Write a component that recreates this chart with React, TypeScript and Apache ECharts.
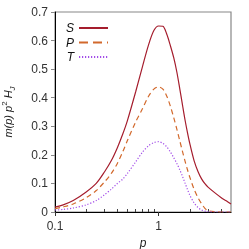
import React, { useEffect, useRef } from "react";
import * as echarts from "echarts";

const pValues = [0.1, 0.12, 0.15, 0.2, 0.25, 0.3, 0.35, 0.4, 0.45, 0.5, 0.6, 0.7, 0.8, 0.9, 1.0, 1.1, 1.2, 1.3, 1.4, 1.5, 1.6, 1.7, 1.8, 1.9, 2.0, 2.2, 2.4, 2.6, 2.8, 3.0, 3.5, 4.0, 4.5, 5.0];
const sValues = [0.017, 0.025, 0.04, 0.07, 0.1, 0.14, 0.18, 0.225, 0.272, 0.32, 0.42, 0.51, 0.585, 0.635, 0.651, 0.65, 0.622, 0.582, 0.54, 0.49, 0.432, 0.375, 0.322, 0.278, 0.24, 0.18, 0.142, 0.116, 0.099, 0.087, 0.067, 0.051, 0.039, 0.028];
const pSeries = [0.012, 0.018, 0.028, 0.05, 0.075, 0.105, 0.135, 0.17, 0.21, 0.25, 0.315, 0.362, 0.405, 0.43, 0.438, 0.43, 0.405, 0.37, 0.33, 0.29, 0.25, 0.212, 0.178, 0.148, 0.122, 0.08, 0.05, 0.029, 0.013, 0.005, 0.001, 0, 0, 0];
const tValues = [0.007, 0.009, 0.014, 0.025, 0.04, 0.06, 0.08, 0.1, 0.115, 0.135, 0.175, 0.21, 0.232, 0.243, 0.246, 0.24, 0.228, 0.21, 0.19, 0.17, 0.148, 0.125, 0.101, 0.079, 0.059, 0.032, 0.016, 0.007, 0.003, 0.001, 0, 0, 0, 0];
const seriesNames = ["S", "P", "T"];
const xMajorTicks = [0.1, 1];
const xMinorTicks = [0.2, 0.3, 0.4, 0.5, 0.6, 0.7, 0.8, 0.9, 2, 3, 4];

const pair = (ys: number[]) => pValues.map((x, i) => [x, ys[i]]);

export default function App() {
  const ref = useRef<HTMLDivElement>(null);
  useEffect(() => {
    if (!ref.current) return;
    const chart = echarts.init(ref.current, null, { renderer: "svg" });
    const font = "Liberation Sans, Arial, sans-serif";
    const colors = ["#a51d2d", "#d2692c", "#a24de8"];
    chart.setOption({
      animation: false,
      textStyle: { fontFamily: font },
      grid: {
        left: 55,
        top: 12,
        right: 18,
        bottom: 37,
        show: true,
        borderColor: "#888",
        borderWidth: 1.2,
        outerBoundsMode: "none",
        containLabel: false,
      },
      legend: {
        orient: "vertical",
        left: 66,
        top: 22,
        align: "right",
        itemWidth: 29,
        itemHeight: 10,
        itemGap: 2.5,
        padding: 0,
        itemStyle: { opacity: 0 },
        textStyle: { fontSize: 12, lineHeight: 10, fontStyle: "italic", color: "#111", fontFamily: font },
        data: [
          { name: seriesNames[0] },
          { name: seriesNames[1], lineStyle: { type: [9, 5], color: colors[1] } },
          { name: seriesNames[2], lineStyle: { type: [1.2, 1.8], color: colors[2] } },
        ],
      },
      xAxis: [
        {
          type: "log",
          logBase: 10,
          min: 0.1,
          max: 5,
          axisLine: { lineStyle: { color: "#000", width: 1 } },
          axisTick: { customValues: xMajorTicks, length: 4, lineStyle: { color: "#333" } },
          axisLabel: {
            customValues: xMajorTicks,
            fontSize: 12,
            color: "#333",
            margin: 8,
            formatter: (v: number) => String(v),
          },
          splitLine: { show: false },
          minorTick: { show: false },
          name: "p",
          nameLocation: "middle",
          nameGap: 22,
          nameTextStyle: { fontStyle: "italic", fontSize: 12, color: "#222" },
        },
        {
          type: "log",
          logBase: 10,
          min: 0.1,
          max: 5,
          position: "bottom",
          offset: 0,
          axisLine: { show: false },
          axisTick: { customValues: xMinorTicks, inside: true, length: 3, lineStyle: { color: "#444" } },
          axisLabel: { show: false },
          splitLine: { show: false },
        },
      ],
      yAxis: {
        type: "value",
        min: 0,
        max: 0.7,
        interval: 0.1,
        axisLine: { show: true, lineStyle: { color: "#000", width: 1 } },
        axisTick: { show: true, length: 4, lineStyle: { color: "#888" } },
        axisLabel: {
          fontSize: 12,
          color: "#333",
          margin: 7,
          formatter: (v: number) => (v === 0 ? "0" : v.toFixed(1)),
        },
        splitLine: { show: false },
        name: "{i|m(p) p}{sup|2}{i| H}{sub|J}",
        nameLocation: "middle",
        nameGap: 39,
        nameRotate: 90,
        nameTextStyle: {
          rich: {
            i: { fontStyle: "italic", fontSize: 11, color: "#222", lineHeight: 16, fontFamily: font },
            sup: { fontSize: 8, color: "#222", lineHeight: 8, verticalAlign: "top", fontFamily: font },
            sub: { fontSize: 8, fontStyle: "italic", color: "#222", lineHeight: 8, verticalAlign: "bottom", fontFamily: font },
          },
        },
      },
      series: [
        {
          name: "S",
          type: "line",
          xAxisIndex: 0,
          data: pair(sValues),
          symbol: "none",
          smooth: 0.3,
          lineStyle: { color: colors[0], width: 1.2, type: "solid" },
          itemStyle: { color: colors[0] },
        },
        {
          name: "P",
          type: "line",
          xAxisIndex: 0,
          data: pair(pSeries),
          symbol: "none",
          smooth: 0.3,
          lineStyle: { color: colors[1], width: 1.2, type: [5, 3.5] },
          itemStyle: { color: colors[1] },
        },
        {
          name: "T",
          type: "line",
          xAxisIndex: 0,
          data: pair(tValues),
          symbol: "none",
          smooth: 0.3,
          lineStyle: { color: colors[2], width: 1.2, type: [1.2, 1.8] },
          itemStyle: { color: colors[2] },
        },
      ],
    });
    return () => chart.dispose();
  }, []);
  return <div ref={ref} style={{ position: "fixed", left: 0, top: 0, width: 249, height: 249 }} />;
}
